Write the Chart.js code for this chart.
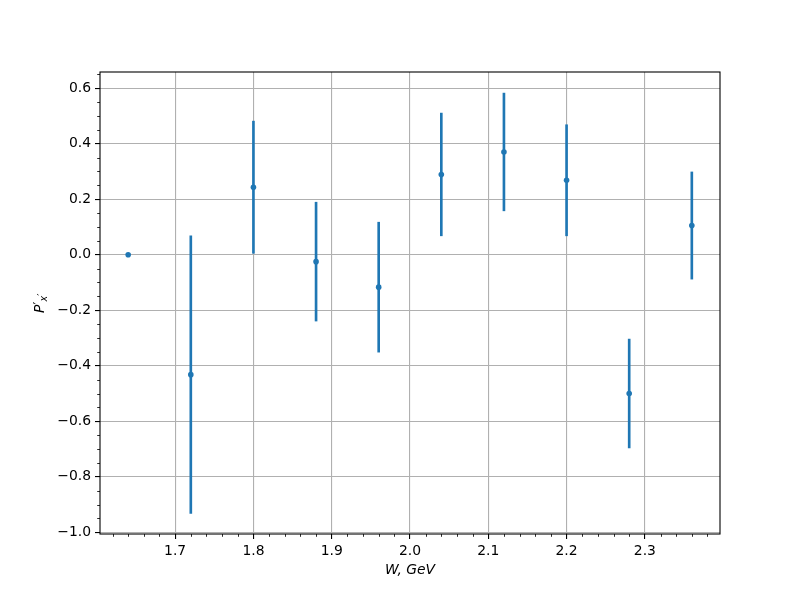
<!DOCTYPE html>
<html>
<head>
<meta charset="utf-8">
<script src="https://cdn.jsdelivr.net/npm/chart.js@4.4.1/dist/chart.umd.min.js"></script>
<style>
  html, body { margin: 0; padding: 0; background: #ffffff; }
  #wrap { width: 800px; height: 600px; }
</style>
</head>
<body>
<div id="wrap"><canvas id="c" width="800" height="600"></canvas></div>
<script>
// ---- data ----
const wValues = [1.64, 1.72, 1.80, 1.88, 1.96, 2.04, 2.12, 2.20, 2.28, 2.36];
const pValues = [0.000, -0.432, 0.243, -0.025, -0.117, 0.289, 0.370, 0.268, -0.500, 0.105];
const pErrors = [0.000, 0.500, 0.238, 0.214, 0.234, 0.221, 0.212, 0.200, 0.196, 0.193];
const xTicks = [1.7, 1.8, 1.9, 2.0, 2.1, 2.2, 2.3];
const xTickLabels = ['1.7', '1.8', '1.9', '2.0', '2.1', '2.2', '2.3'];
const yTicks = [-1.0, -0.8, -0.6, -0.4, -0.2, 0.0, 0.2, 0.4, 0.6];
const yTickLabels = ['\u22121.0', '\u22120.8', '\u22120.6', '\u22120.4', '\u22120.2', '0.0', '0.2', '0.4', '0.6'];
const xMinorStep = 0.02;
const yMinorStep = 0.05;
const xLabel = 'W, GeV';

const BLUE = '#1f77b4';
const FONT = 'DejaVu Sans';
const FS = 13.9;

const pointData = wValues.map((w, i) => ({ x: w, y: pValues[i] }));
const errData = wValues.map((w, i) => pErrors[i] > 0 ? ({ x: w, y: [pValues[i] - pErrors[i], pValues[i] + pErrors[i]] }) : null).filter(d => d);

const boxAndMinor = {
  id: 'boxAndMinor',
  afterDraw(chart) {
    const ctx = chart.ctx;
    const a = chart.chartArea;
    const xs = chart.scales.x, ys = chart.scales.y;
    ctx.save();
    // minor ticks
    ctx.strokeStyle = '#000';
    ctx.lineWidth = 0.83;
    const isMajor = (v, arr) => arr.some(t => Math.abs(t - v) < 1e-6);
    for (let k = Math.ceil(xs.min / xMinorStep); k * xMinorStep <= xs.max; k++) {
      const v = k * xMinorStep;
      if (isMajor(v, xTicks)) continue;
      const px = Math.round(xs.getPixelForValue(v)) + 0.5;
      ctx.beginPath(); ctx.moveTo(px, a.bottom); ctx.lineTo(px, a.bottom + 2.8); ctx.stroke();
    }
    for (let k = Math.ceil(ys.min / yMinorStep); k * yMinorStep <= ys.max; k++) {
      const v = k * yMinorStep;
      if (isMajor(v, yTicks)) continue;
      const py = Math.round(ys.getPixelForValue(v)) + 0.5;
      ctx.beginPath(); ctx.moveTo(a.left, py); ctx.lineTo(a.left - 2.8, py); ctx.stroke();
    }
    // axes box
    ctx.lineWidth = 1.1;
    ctx.strokeRect(a.left, a.top, a.right - a.left, a.bottom - a.top);
    // y-axis label  P'_{x'}
    ctx.translate(44, 313);
    ctx.rotate(-Math.PI / 2);
    ctx.fillStyle = '#000';
    ctx.textBaseline = 'alphabetic';
    ctx.textAlign = 'left';
    ctx.font = 'italic ' + FS + 'px "' + FONT + '"';
    ctx.fillText('P', 0, 0);
    ctx.font = '12px "' + FONT + '"';
    ctx.fillText('\u2032', 8.4, -2);
    ctx.font = 'italic 9.7px "' + FONT + '"';
    ctx.fillText('x', 11.5, 3.2);
    ctx.font = '10px "' + FONT + '"';
    ctx.fillText('\u2032', 17.2, 0.5);
    ctx.restore();
  }
};

new Chart(document.getElementById('c'), {
  type: 'bar',
  data: {
    datasets: [
      {
        type: 'line',
        data: pointData,
        showLine: false,
        pointRadius: 2.8,
        pointHoverRadius: 2.8,
        pointBackgroundColor: BLUE,
        pointBorderColor: BLUE,
        pointBorderWidth: 0,
        order: 0
      },
      {
        type: 'bar',
        data: errData,
        backgroundColor: BLUE,
        borderWidth: 0,
        barThickness: 2,
        order: 1
      }
    ]
  },
  options: {
    responsive: false,
    animation: false,
    devicePixelRatio: 1,
    layout: { padding: { top: 72, right: 80, left: 0, bottom: 0 } },
    plugins: { legend: { display: false }, tooltip: { enabled: false } },
    scales: {
      x: {
        type: 'linear',
        min: 1.604,
        max: 2.396,
        offset: false,
        afterBuildTicks: (s) => { s.ticks = xTicks.map(v => ({ value: v })); },
        afterFit: (s) => { s.height = 66; },
        ticks: {
          autoSkip: false,
          maxRotation: 0,
          padding: 4,
          color: '#000',
          font: { family: FONT, size: FS },
          callback: (v, i) => xTickLabels[i]
        },
        grid: { offset: false, color: '#b0b0b0', lineWidth: 1.1, tickLength: 5, tickColor: '#000', tickWidth: 1.1 },
        border: { display: false },
        title: {
          display: true,
          text: xLabel,
          color: '#000',
          font: { family: FONT, size: FS, style: 'italic' },
          padding: { top: 0, bottom: 21.6 }
        }
      },
      y: {
        type: 'linear',
        min: -1.006,
        max: 0.658,
        afterBuildTicks: (s) => { s.ticks = yTicks.map(v => ({ value: v })); },
        afterFit: (s) => { s.width = 100; },
        ticks: {
          autoSkip: false,
          padding: 4,
          color: '#000',
          font: { family: FONT, size: FS },
          callback: (v, i) => yTickLabels[i]
        },
        grid: { color: '#b0b0b0', lineWidth: 1.1, tickLength: 5, tickColor: '#000', tickWidth: 1.1 },
        border: { display: false }
      }
    }
  },
  plugins: [boxAndMinor]
});
</script>
</body>
</html>
